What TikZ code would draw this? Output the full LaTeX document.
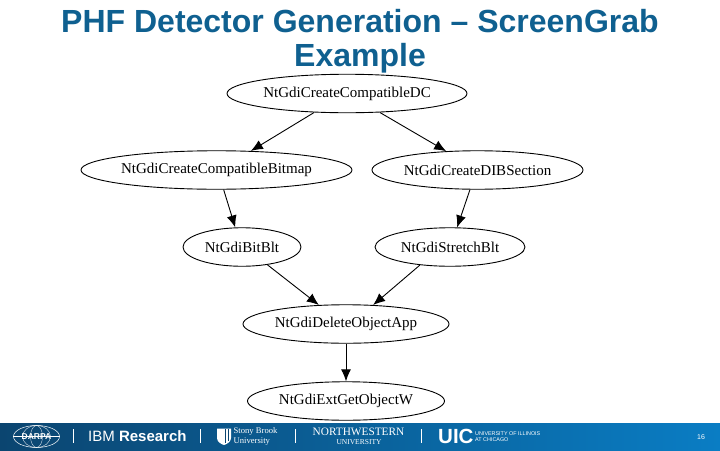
\documentclass[tikz,border=0pt]{standalone}
\usepackage{fontspec}
\setmainfont{Liberation Serif}
\newfontfamily\hsans{Liberation Sans}
\usetikzlibrary{arrows.meta,shapes.geometric}
\definecolor{titleblue}{HTML}{0F6090}
\definecolor{footL}{HTML}{0B4570}
\definecolor{footR}{HTML}{0A7DC4}
\newcommand{\gtext}[1]{\makebox[0pt][c]{\raisebox{-1pt}{#1}}}
\tikzset{
  gnode/.style={draw,ellipse,inner sep=0pt,line width=0.9pt,minimum height=38.5pt,font=\fontsize{15}{16}\selectfont},
  gedge/.style={draw,line width=0.9pt,-{Latex[length=12pt,width=10pt]}},
  flogo/.style={text=white,inner sep=0pt},
  fsep/.style={draw=white,line width=0.7pt}
}
\begin{document}
\begin{tikzpicture}[x=1pt,y=-1pt]
\useasboundingbox (0,0) rectangle (720,450);
\fill[white] (0,0) rectangle (720,450);
\shade[left color=footL,right color=footR] (0,423) rectangle (720,450);
\node[text=titleblue,font=\hsans\bfseries\fontsize{32}{34}\selectfont,align=center,inner sep=0pt] (title) at (360,41) {PHF Detector Generation – ScreenGrab\\Example};
\node[gnode,minimum width=240pt] (dc) at (347,93.5) {\gtext{NtGdiCreateCompatibleDC}};
\node[gnode,minimum width=271pt] (bm) at (216.5,170) {\gtext{NtGdiCreateCompatibleBitmap}};
\node[gnode,minimum width=211pt] (dib) at (477.5,170) {\gtext{NtGdiCreateDIBSection}};
\node[gnode,minimum width=118pt] (bit) at (242,247) {\gtext{NtGdiBitBlt}};
\node[gnode,minimum width=150pt] (str) at (450,247) {\gtext{NtGdiStretchBlt}};
\node[gnode,minimum width=206pt] (del) at (346,324) {\gtext{NtGdiDeleteObjectApp}};
\node[gnode,minimum width=197pt] (ext) at (346,401) {\gtext{NtGdiExtGetObjectW}};
\draw[gedge] (dc.210.7) -- (bm.29.4);
\draw[gedge] (dc.330) -- (dib.149.5);
\draw[gedge] (bm.-70) -- (bit.109);
\draw[gedge] (dib.-111) -- (str.70);
\draw[gedge] (bit.-35.8) -- (del.145);
\draw[gedge] (str.211) -- (del.35.8);
\draw[gedge] (del.-90) -- (ext.90);
% footer logos
\node[draw=white,ellipse,line width=0.5pt,minimum width=46pt,minimum height=22pt,inner sep=0pt,flogo] (darpa) at (36.5,436.5) {};
\draw[white,line width=0.3pt] (darpa.center) ellipse [x radius=14,y radius=11];
\draw[white,line width=0.3pt] (darpa.center) ellipse [x radius=6,y radius=11];
\draw[white,line width=0.3pt] (darpa.west) -- (darpa.east);
\node[flogo,font=\hsans\bfseries\fontsize{8.5}{9}\selectfont] (darpat) at (36.5,436.5) {DARPA};
\coordinate (s1t) at (73,429); \coordinate (s1b) at (73,443);
\draw[fsep] (s1t) -- (s1b);
\node[flogo,anchor=west,font=\hsans\fontsize{15}{16}\selectfont] (ibm) at (88,436.5) {IBM \textbf{Research}};
\coordinate (s2t) at (200,429); \coordinate (s2b) at (200,443);
\draw[fsep] (s2t) -- (s2b);
\fill[white] (217,428.5) -- (231,428.5) -- (231,438) .. controls (231,442) and (227,444) .. (224,445) .. controls (221,444) and (217,442) .. (217,438) -- cycle;
\draw[footL,line width=0.8pt] (225,429) -- (225,443) (228,429) -- (228,441);
\node[flogo,anchor=west,align=left,font=\fontsize{8.6}{9.5}\selectfont] (sb) at (233.5,436.5) {Stony Brook\\University};
\coordinate (s3t) at (295,429); \coordinate (s3b) at (295,443);
\draw[fsep] (s3t) -- (s3b);
\node[flogo,font=\fontsize{11.3}{12}\selectfont] (nw) at (358.5,431.5) {NORTHWESTERN};
\node[flogo,font=\fontsize{7.5}{8}\selectfont] (nwu) at (359,442) {UNIVERSITY};
\coordinate (s4t) at (421,429); \coordinate (s4b) at (421,443);
\draw[fsep] (s4t) -- (s4b);
\node[flogo,anchor=west,font=\hsans\bfseries\fontsize{20.5}{21}\selectfont] (uic) at (438,436.5) {UIC};
\node[flogo,anchor=west,align=left,font=\hsans\fontsize{5.4}{6.5}\selectfont] (uict) at (475,436.5) {UNIVERSITY OF ILLINOIS\\AT CHICAGO};
\node[flogo,font=\hsans\fontsize{7}{8}\selectfont] (page) at (701,437) {16};
\end{tikzpicture}
\end{document}
